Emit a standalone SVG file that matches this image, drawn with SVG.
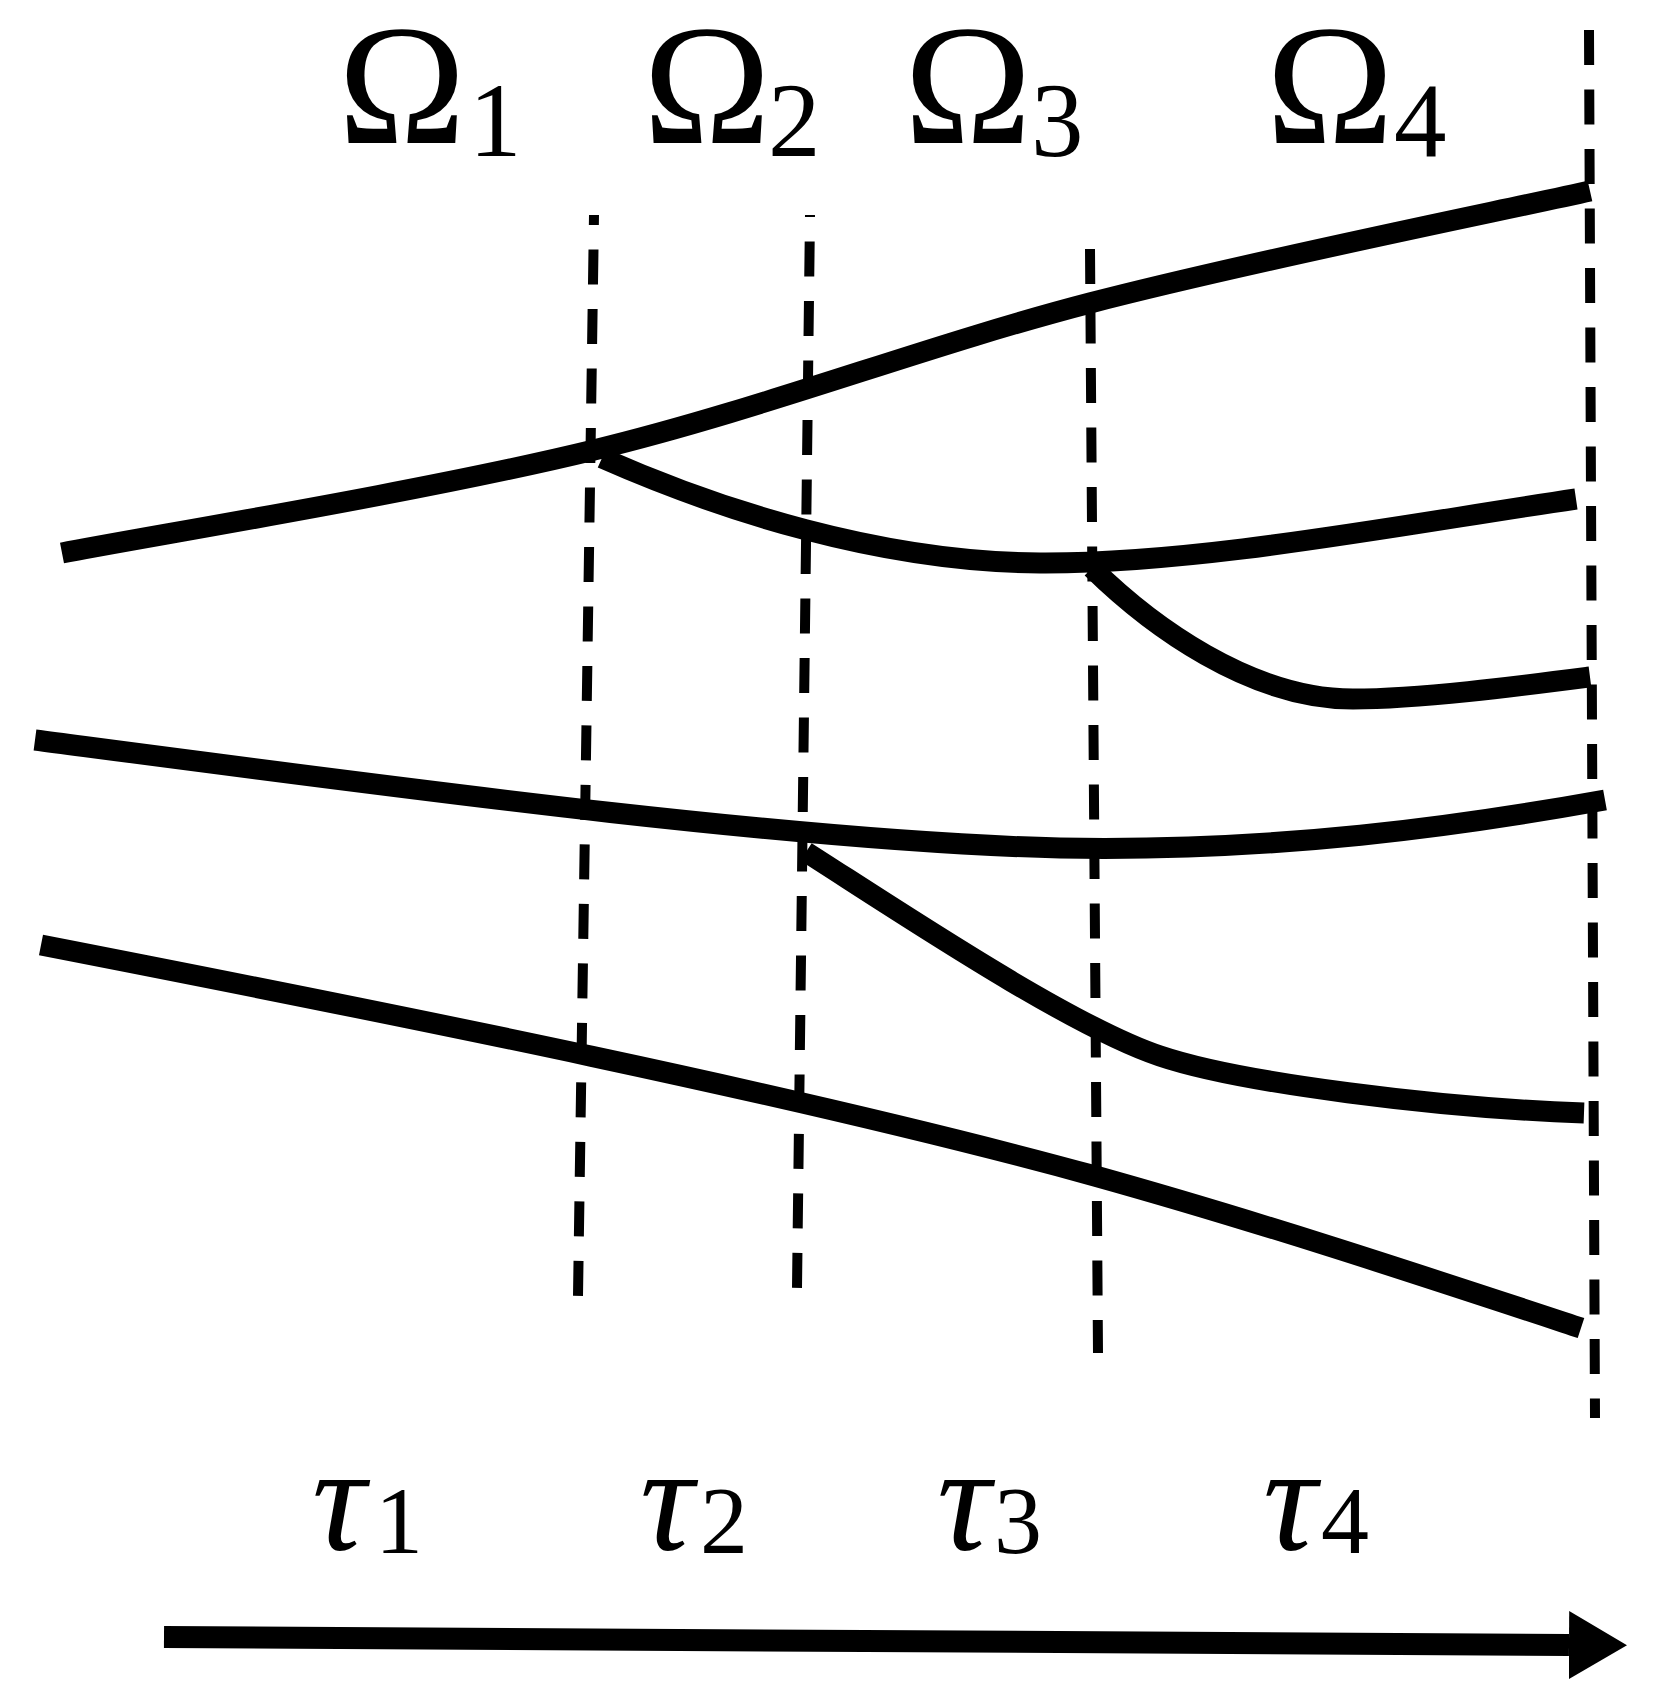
<svg xmlns="http://www.w3.org/2000/svg" width="1660" height="1684" viewBox="0 0 1660 1684">
<style>
.curve{fill:none;stroke:#000;stroke-width:21;stroke-linecap:butt;stroke-linejoin:round}
.dash{fill:none;stroke:#000;stroke-width:10;stroke-dasharray:35 24.5}
.om{font-family:"Liberation Serif","Times New Roman",serif;font-size:172px;fill:#000}
.sub{font-family:"Liberation Serif","Times New Roman",serif;font-size:105px;fill:#000}
.tau{font-family:"Liberation Serif","Times New Roman",serif;font-style:italic;font-size:150px;fill:#000}
.num{font-family:"Liberation Serif","Times New Roman",serif;font-size:96px;fill:#000}
</style>
<defs>
<marker id="head" markerUnits="userSpaceOnUse" markerWidth="58" markerHeight="68" viewBox="0 0 58 68" refX="0" refY="34" orient="auto">
<path d="M0,0 L58,34 L0,68 Z" fill="#000"/>
</marker>
</defs>
<rect width="1660" height="1684" fill="#fff"/>
<g id="boundaries">
<path class="dash" style="stroke-dashoffset:25" d="M594,215 L578,1296"/>
<path class="dash" style="stroke-dashoffset:33" d="M810,215 L797,1288"/>
<path class="dash" d="M1090,249 L1098,1353"/>
<path class="dash" d="M1589,30 L1595,1418"/>
</g>
<g id="connectors">
<path id="curveA" class="curve" d="M62,553 C150.7,535.8 422.7,491.7 594,450 C765.3,408.3 924,346.2 1090,303 C1256,259.8 1506.7,209.7 1590,191"/>
<path id="curveB" class="curve" d="M602,458 C720,510 880,562 1040,563 C1200,564 1400,525 1576,499"/>
<path id="curveC" class="curve" d="M1092,568 C1150,625 1250,699 1353,699 C1420,699 1520,686 1590,677"/>
<path id="curveD" class="curve" d="M35,740 C400,788 800,842 1060,848 C1280,852 1460,826 1605,800"/>
<path id="curveE" class="curve" d="M806,852 C900,912 1070,1026 1160,1056 C1240,1083 1440,1108 1584,1113"/>
<path id="curveF" class="curve" d="M41,945 C400,1015 800,1095 1095,1176 C1260,1222 1420,1275 1581,1328"/>
<path id="timeArrow" d="M164,1637 L1569,1645" fill="none" stroke="#000" stroke-width="22" marker-end="url(#head)"/>
</g>
<g id="omega1"><text class="om" x="338" y="143">Ω</text><text class="sub" x="469" y="156">1</text></g>
<g id="omega2"><text class="om" x="643" y="143">Ω</text><text class="sub" x="768" y="156">2</text></g>
<g id="omega3"><text class="om" x="904" y="143">Ω</text><text class="sub" x="1031" y="156">3</text></g>
<g id="omega4"><text class="om" x="1266" y="143">Ω</text><text class="sub" x="1394" y="156">4</text></g>
<g id="tau1"><text class="tau" x="312" y="1550">τ</text><text class="num" x="375" y="1553">1</text></g>
<g id="tau2"><text class="tau" x="640" y="1550">τ</text><text class="num" x="700" y="1553">2</text></g>
<g id="tau3"><text class="tau" x="937" y="1550">τ</text><text class="num" x="994" y="1553">3</text></g>
<g id="tau4"><text class="tau" x="1263" y="1550">τ</text><text class="num" x="1321" y="1553">4</text></g>
</svg>
